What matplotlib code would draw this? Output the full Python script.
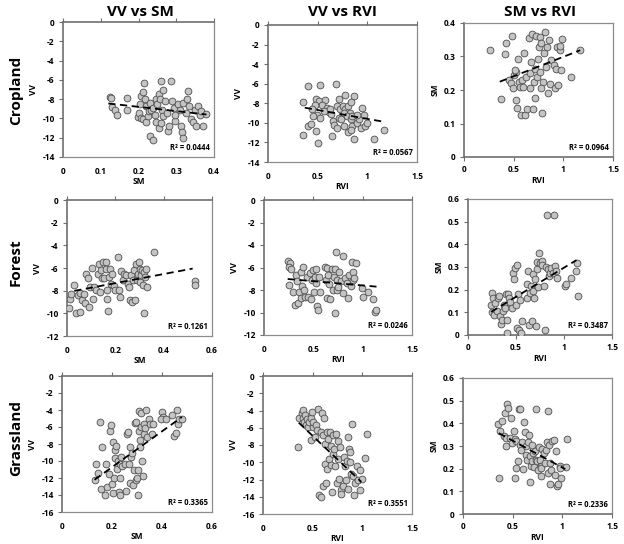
import matplotlib.pyplot as plt
import numpy as np

plt.rcParams['font.family'] = ['Open Sans', 'DejaVu Sans']
plt.rcParams['font.weight'] = 'bold'
plt.rcParams['axes.unicode_minus'] = False

# column / row names
col_titles = ["VV vs SM", "VV vs RVI", "SM vs RVI"]
row_titles = ["Cropland", "Forest", "Grassland"]

# Cropland
crop_sm_a = [0.124, 0.126, 0.13, 0.137, 0.143, 0.17, 0.17, 0.199, 0.2, 0.205,
             0.207, 0.212, 0.214, 0.218, 0.22, 0.206, 0.213, 0.219, 0.224, 0.228,
             0.231, 0.234, 0.238, 0.243, 0.247, 0.25, 0.254, 0.258, 0.26, 0.263,
             0.265, 0.231, 0.238, 0.247, 0.254, 0.26, 0.266, 0.271, 0.275, 0.278,
             0.282, 0.287, 0.29, 0.293, 0.296, 0.298, 0.305, 0.309, 0.313, 0.316,
             0.318, 0.319, 0.325, 0.329, 0.332, 0.335, 0.34, 0.344, 0.349, 0.353,
             0.357, 0.362, 0.366, 0.371, 0.38]
crop_vv_a = [-7.76, -7.9, -8.8, -9.1, -9.6, -7.9, -9.1, -9.9, -9.4, -8.55,
             -7.7, -7.3, -6.3, -8.0, -8.7, -10.0, -10.1, -10.4, -9.7, -9.2,
             -8.4, -9.1, -8.9, -9.6, -8.0, -8.55, -7.5, -8.0, -6.1, -9.1,
             -9.75, -11.8, -12.2, -10.4, -11.0, -10.5, -7.0, -8.2, -9.4, -11.3,
             -10.8, -6.1, -8.2, -8.9, -10.3, -9.6, -8.55, -9.1, -10.8, -11.4,
             -12.0, -8.4, -9.4, -8.0, -7.2, -8.7, -10.1, -10.4, -9.1, -10.8,
             -8.7, -9.6, -9.2, -10.8, -9.5]

crop_rvi_b = [0.4, 0.526, 0.68, 0.357, 0.78, 0.87, 0.486, 0.51, 0.577, 0.543,
              0.475, 0.44, 0.594, 0.611, 0.56, 0.49, 0.526, 0.45, 0.407, 0.435,
              0.486, 0.35, 0.5, 0.638, 0.655, 0.669, 0.69, 0.713, 0.737, 0.696,
              0.72, 0.757, 0.78, 0.805, 0.825, 0.764, 0.798, 0.832, 0.85, 0.764,
              0.805, 0.832, 0.866, 0.9, 0.917, 0.934, 0.95, 0.968, 0.975, 0.995,
              1.07, 1.165, 0.645, 0.832, 0.716, 0.628, 0.85, 0.9]
crop_vv_b = [-6.25, -6.1, -6.0, -7.9, -7.2, -7.3, -7.6, -7.8, -7.7, -8.2,
             -8.2, -8.6, -8.5, -8.9, -8.8, -9.15, -9.5, -9.25, -10.3, -10.1,
             -10.85, -11.2, -12.1, -9.05, -9.8, -10.2, -10.5, -9.5, -9.65, -8.3,
             -8.6, -8.3, -8.6, -8.3, -9.0, -9.0, -9.3, -9.65, -10.3, -10.35,
             -10.95, -10.7, -11.7, -10.0, -9.65, -10.5, -8.5, -9.15, -10.3, -10.0,
             -11.7, -10.7, -11.35, -7.9, -7.55, -8.6, -9.3, -9.15]

crop_rvi_c = [0.265, 0.376, 0.416, 0.42, 0.453, 0.477, 0.487, 0.493, 0.5, 0.52,
              0.527, 0.534, 0.544, 0.554, 0.56, 0.57, 0.587, 0.6, 0.611, 0.62,
              0.634, 0.654, 0.661, 0.668, 0.678, 0.688, 0.695, 0.701, 0.711, 0.715,
              0.728, 0.735, 0.745, 0.755, 0.762, 0.768, 0.779, 0.789, 0.795, 0.805,
              0.812, 0.822, 0.836, 0.846, 0.856, 0.869, 0.879, 0.903, 0.916, 0.93,
              0.936, 0.95, 0.963, 0.97, 0.98, 0.99, 1.08, 1.17, 0.51, 0.779,
              0.594]
crop_sm_c = [0.319, 0.173, 0.306, 0.34, 0.23, 0.22, 0.361, 0.205, 0.245, 0.255,
             0.17, 0.146, 0.294, 0.225, 0.21, 0.126, 0.23, 0.311, 0.126, 0.238,
             0.143, 0.356, 0.251, 0.205, 0.284, 0.368, 0.143, 0.225, 0.175, 0.264,
             0.36, 0.24, 0.294, 0.329, 0.358, 0.254, 0.339, 0.131, 0.225, 0.309,
             0.373, 0.269, 0.329, 0.19, 0.349, 0.218, 0.291, 0.274, 0.205, 0.262,
             0.329, 0.215, 0.319, 0.331, 0.26, 0.353, 0.238, 0.319, 0.26, 0.205,
             0.21]

# Forest
forest_sm_a = [0.007, 0.014, 0.018, 0.03, 0.039, 0.044, 0.052, 0.055, 0.062, 0.069,
               0.076, 0.08, 0.086, 0.09, 0.097, 0.103, 0.108, 0.113, 0.121, 0.127,
               0.132, 0.135, 0.14, 0.145, 0.149, 0.154, 0.16, 0.163, 0.166, 0.166,
               0.168, 0.172, 0.179, 0.183, 0.188, 0.193, 0.2, 0.21, 0.214, 0.218,
               0.223, 0.232, 0.237, 0.246, 0.251, 0.257, 0.262, 0.265, 0.269, 0.273,
               0.279, 0.281, 0.284, 0.29, 0.292, 0.297, 0.3, 0.303, 0.308, 0.312,
               0.314, 0.317, 0.32, 0.324, 0.328, 0.331, 0.359, 0.528, 0.53]
forest_vv_a = [-9.5, -8.76, -8.26, -7.46, -10.0, -8.4, -8.2, -9.9, -8.85, -8.26,
               -9.1, -6.5, -6.9, -9.4, -7.67, -5.96, -8.7, -7.67, -7.96, -6.5,
               -5.66, -8.1, -6.2, -6.9, -5.46, -6.9, -5.46, -6.05, -7.96, -8.7,
               -9.8, -6.8, -6.05, -7.4, -6.5, -7.6, -7.96, -5.0, -7.96, -8.6,
               -6.25, -7.08, -6.5, -6.64, -7.4, -7.7, -8.85, -6.64, -9.0, -7.08,
               -6.2, -8.85, -5.66, -7.08, -6.55, -5.46, -6.05, -7.2, -6.64, -6.2,
               -7.5, -9.94, -6.35, -6.78, -6.05, -7.67, -4.57, -7.17, -7.46]

forest_rvi_b = [0.244, 0.26, 0.254, 0.271, 0.25, 0.295, 0.312, 0.329, 0.339, 0.346,
                0.356, 0.37, 0.38, 0.39, 0.397, 0.407, 0.42, 0.437, 0.451, 0.464,
                0.475, 0.485, 0.492, 0.505, 0.515, 0.525, 0.532, 0.539, 0.549, 0.559,
                0.566, 0.617, 0.627, 0.634, 0.64, 0.651, 0.661, 0.668, 0.685, 0.695,
                0.708, 0.715, 0.719, 0.729, 0.735, 0.742, 0.753, 0.763, 0.776, 0.797,
                0.803, 0.82, 0.837, 0.847, 0.864, 0.878, 0.888, 0.898, 0.905, 0.912,
                0.932, 0.99, 1.0, 1.058, 1.108, 1.125, 1.135]
forest_vv_b = [-5.42, -5.63, -5.98, -6.16, -7.55, -8.15, -9.33, -6.67, -7.17, -9.13,
               -8.15, -6.37, -8.74, -7.64, -5.98, -8.0, -8.65, -6.81, -8.65, -6.46,
               -8.83, -7.11, -6.22, -8.15, -6.81, -6.16, -7.41, -9.42, -9.78, -6.87,
               -8.15, -5.98, -7.11, -8.74, -6.07, -6.67, -7.47, -8.83, -6.16, -8.0,
               -6.87, -6.16, -10.0, -4.59, -8.0, -7.11, -7.7, -6.37, -7.17, -4.98,
               -8.24, -6.96, -7.41, -8.74, -6.67, -7.64, -5.48, -7.11, -6.37, -6.96,
               -5.63, -7.85, -8.6, -8.15, -8.8, -9.93, -9.78]

forest_rvi_c = [0.248, 0.238, 0.248, 0.259, 0.266, 0.283, 0.307, 0.317, 0.328, 0.334,
                0.341, 0.352, 0.362, 0.376, 0.386, 0.397, 0.403, 0.41, 0.421, 0.431,
                0.438, 0.455, 0.472, 0.479, 0.49, 0.5, 0.507, 0.514, 0.524, 0.534,
                0.541, 0.548, 0.559, 0.61, 0.617, 0.628, 0.634, 0.645, 0.652, 0.662,
                0.672, 0.679, 0.686, 0.697, 0.707, 0.714, 0.721, 0.731, 0.741, 0.748,
                0.766, 0.776, 0.79, 0.8, 0.81, 0.824, 0.834, 0.845, 0.859, 0.869,
                0.886, 0.893, 0.903, 0.914, 0.928, 1.007, 1.017, 1.076, 1.128, 1.138,
                1.145]
forest_sm_c = [0.186, 0.134, 0.1, 0.164, 0.09, 0.142, 0.105, 0.164, 0.171, 0.083,
               0.05, 0.068, 0.105, 0.134, 0.12, 0.183, 0.068, 0.009, 0.179, 0.164,
               0.145, 0.12, 0.275, 0.245, 0.297, 0.134, 0.031, 0.307, 0.179, 0.024,
               0.154, 0.009, 0.061, 0.164, 0.223, 0.282, 0.046, 0.186, 0.216, 0.061,
               0.267, 0.194, 0.164, 0.245, 0.041, 0.29, 0.322, 0.213, 0.36, 0.319,
               0.327, 0.307, 0.216, 0.024, 0.301, 0.529, 0.29, 0.26, 0.272, 0.297,
               0.275, 0.53, 0.304, 0.282, 0.253, 0.216, 0.223, 0.253, 0.282, 0.316,
               0.171]

# Grassland
grass_sm_a = [0.131, 0.135, 0.144, 0.153, 0.157, 0.161, 0.171, 0.175, 0.18, 0.188,
              0.191, 0.197, 0.201, 0.204, 0.204, 0.208, 0.211, 0.211, 0.217, 0.22,
              0.224, 0.228, 0.231, 0.233, 0.233, 0.236, 0.241, 0.251, 0.257, 0.26,
              0.264, 0.268, 0.271, 0.273, 0.277, 0.281, 0.284, 0.287, 0.291, 0.295,
              0.297, 0.3, 0.304, 0.304, 0.308, 0.308, 0.311, 0.313, 0.317, 0.317,
              0.321, 0.324, 0.327, 0.327, 0.331, 0.335, 0.34, 0.348, 0.353, 0.361,
              0.364, 0.401, 0.404, 0.397, 0.417, 0.441, 0.447, 0.455, 0.46, 0.464,
              0.468, 0.481]
grass_vv_a = [-12.2, -10.4, -11.4, -5.47, -13.3, -8.3, -14.0, -10.3, -13.0, -11.5,
              -6.5, -5.8, -12.7, -7.8, -13.8, -12.0, -8.7, -9.7, -8.2, -10.9,
              -10.0, -13.6, -10.35, -12.0, -14.0, -9.5, -10.6, -10.3, -13.5, -6.84,
              -6.56, -10.3, -8.4, -12.6, -9.57, -9.1, -12.8, -11.05, -5.5, -12.2,
              -5.47, -12.0, -14.0, -11.05, -6.45, -4.14, -8.4, -7.54, -5.98, -4.41,
              -10.0, -11.8, -6.84, -5.6, -6.17, -3.95, -7.15, -5.1, -5.7, -6.84,
              -5.66, -4.2, -4.8, -5.1, -5.0, -4.6, -7.07, -6.7, -3.95, -5.6,
              -5.1, -5.0]

grass_rvi_b = [0.355, 0.365, 0.389, 0.399, 0.405, 0.416, 0.426, 0.432, 0.446, 0.456,
               0.466, 0.48, 0.486, 0.49, 0.5, 0.507, 0.524, 0.534, 0.547, 0.557,
               0.568, 0.581, 0.584, 0.591, 0.601, 0.608, 0.615, 0.625, 0.625, 0.635,
               0.642, 0.649, 0.659, 0.669, 0.676, 0.682, 0.686, 0.693, 0.703, 0.709,
               0.716, 0.726, 0.736, 0.743, 0.753, 0.76, 0.77, 0.777, 0.784, 0.787,
               0.804, 0.811, 0.828, 0.838, 0.845, 0.851, 0.855, 0.861, 0.872, 0.878,
               0.885, 0.895, 0.905, 0.919, 0.929, 0.946, 0.956, 0.973, 0.98, 0.997,
               1.03, 1.047]
grass_vv_b = [-8.24, -4.82, -4.24, -4.82, -3.92, -5.3, -4.5, -5.7, -5.0, -5.9,
              -5.3, -4.9, -7.37, -4.12, -5.9, -5.3, -7.06, -5.7, -6.27, -3.8,
              -13.84, -14.0, -6.47, -4.3, -12.75, -6.86, -4.9, -7.84, -10.2, -12.4,
              -6.47, -10.8, -7.25, -9.6, -6.55, -10.3, -8.1, -13.45, -6.86, -9.0,
              -8.5, -10.4, -6.67, -12.4, -7.57, -9.6, -11.96, -8.24, -13.25, -13.7,
              -12.75, -9.4, -10.4, -12.0, -9.8, -13.06, -7.06, -8.43, -10.0, -8.8,
              -11.4, -5.6, -11.65, -13.84, -12.35, -10.4, -12.0, -10.9, -13.2, -11.9,
              -9.5, -6.78]

grass_rvi_c = [0.362, 0.352, 0.369, 0.396, 0.409, 0.419, 0.43, 0.43, 0.443, 0.456,
               0.47, 0.487, 0.497, 0.51, 0.52, 0.52, 0.53, 0.537, 0.554, 0.564,
               0.57, 0.577, 0.587, 0.597, 0.604, 0.611, 0.621, 0.631, 0.638, 0.644,
               0.654, 0.664, 0.671, 0.678, 0.685, 0.691, 0.698, 0.705, 0.711, 0.721,
               0.732, 0.738, 0.745, 0.755, 0.765, 0.772, 0.782, 0.789, 0.789, 0.799,
               0.812, 0.822, 0.839, 0.846, 0.856, 0.856, 0.866, 0.872, 0.879, 0.889,
               0.899, 0.913, 0.923, 0.933, 0.946, 0.956, 0.973, 0.98, 0.99, 1.034,
               1.047]
grass_sm_c = [0.158, 0.398, 0.367, 0.409, 0.345, 0.445, 0.301, 0.335, 0.487, 0.468,
              0.335, 0.423, 0.313, 0.364, 0.158, 0.33, 0.202, 0.32, 0.232, 0.463,
              0.463, 0.305, 0.283, 0.316, 0.198, 0.404, 0.36, 0.261, 0.301, 0.239,
              0.316, 0.35, 0.254, 0.143, 0.212, 0.232, 0.305, 0.268, 0.209, 0.276,
              0.239, 0.463, 0.232, 0.195, 0.295, 0.239, 0.168, 0.212, 0.202, 0.286,
              0.268, 0.227, 0.283, 0.316, 0.453, 0.18, 0.305, 0.224, 0.133, 0.195,
              0.32, 0.327, 0.173, 0.28, 0.124, 0.133, 0.212, 0.202, 0.158, 0.206,
              0.33]

# linear trend lines (slope, intercept, x range), and R² labels
trend_slope = [-4.4, -1.81, 0.116, 4.02, -0.756, 0.257, 21.1, -10.9, -0.237]
trend_intercept = [-7.92, -7.78, 0.183, -8.14, -6.84, 0.04, -14.95, -1.49, 0.442]
trend_from = [0.12, 0.37, 0.36, 0.03, 0.24, 0.24, 0.13, 0.36, 0.36]
trend_to = [0.38, 1.17, 1.17, 0.52, 1.14, 1.13, 0.48, 0.99, 1.03]
r2_labels = ["0.0444", "0.0567", "0.0964", "0.1261", "0.0246", "0.3487",
             "0.3365", "0.3551", "0.2336"]

xs = [crop_sm_a, crop_rvi_b, crop_rvi_c,
      forest_sm_a, forest_rvi_b, forest_rvi_c,
      grass_sm_a, grass_rvi_b, grass_rvi_c]
ys = [crop_vv_a, crop_vv_b, crop_sm_c,
      forest_vv_a, forest_vv_b, forest_sm_c,
      grass_vv_a, grass_vv_b, grass_sm_c]
x_names = ["SM", "RVI", "RVI"] * 3
y_names = ["VV", "VV", "SM"] * 3

x_ticks = [np.arange(0, 0.41, 0.1), np.arange(0, 1.51, 0.5), np.arange(0, 1.51, 0.5),
           np.arange(0, 0.61, 0.2), np.arange(0, 1.51, 0.5), np.arange(0, 1.51, 0.5),
           np.arange(0, 0.61, 0.2), np.arange(0, 1.51, 0.5), np.arange(0, 1.51, 0.5)]
y_ticks = [np.arange(-14, 0.1, 2), np.arange(-14, 0.1, 2), np.arange(0, 0.41, 0.1),
           np.arange(-12, 0.1, 2), np.arange(-12, 0.1, 2), np.arange(0, 0.61, 0.1),
           np.arange(-16, 0.1, 2), np.arange(-16, 0.1, 2), np.arange(0, 0.61, 0.1)]

# axes boxes in pixels: left, top, right, bottom
boxes = [(63, 22, 214, 157), (268, 25, 417, 162), (464, 23, 613, 157),
         (67, 200, 212, 336), (264, 200, 412, 335), (468, 199, 612, 335),
         (62, 376, 212, 512), (263, 376, 412, 514), (463, 378, 612, 514)]

W, H = 624, 544
fig = plt.figure(figsize=(W / 100, H / 100), dpi=100)

spine_col = '#8c8c8c'
axis_col = '#6e6e6e'

for i in range(9):
    l, t, r, b = boxes[i]
    ax = fig.add_axes([l / W, 1 - b / H, (r - l) / W, (b - t) / H])
    ax.scatter(xs[i], ys[i], s=24, facecolor='#c4c4c4', edgecolor='#4d4d4d',
               linewidth=0.6, zorder=3)
    xl = np.array([trend_from[i], trend_to[i]])
    ax.plot(xl, trend_slope[i] * xl + trend_intercept[i], color='black',
            lw=1.3, ls=(0, (4, 2.5)), zorder=4)

    xt = x_ticks[i]
    yt = y_ticks[i]
    ax.set_xlim(xt[0], xt[-1])
    ax.set_ylim(yt[0], yt[-1])
    ax.set_xticks(xt)
    ax.set_yticks(yt)
    ax.set_xticklabels([f"{v:g}" for v in np.round(xt, 2)])
    ax.set_yticklabels([f"{v:g}" for v in np.round(yt, 2)])
    ax.tick_params(labelsize=6, length=3, width=0.8, color=axis_col, pad=3)

    for s in ax.spines.values():
        s.set_color(spine_col)
        s.set_linewidth(0.9)
    ax.spines['left'].set_color(axis_col)
    ax.spines['left'].set_linewidth(1.2)
    if y_names[i] == "VV":
        # x axis crosses at 0, which is the top of the plot
        ax.tick_params(axis='x', bottom=False, top=True, labelbottom=True,
                       labeltop=False, pad=4)
        ax.spines['top'].set_color(axis_col)
        ax.spines['top'].set_linewidth(1.2)
    else:
        ax.spines['bottom'].set_color(axis_col)
        ax.spines['bottom'].set_linewidth(1.2)

    ax.set_xlabel(x_names[i], fontsize=6, fontweight='bold', labelpad=1)
    ax.set_ylabel(y_names[i], fontsize=6, fontweight='bold', labelpad=3)
    ax.text(0.97, 0.04, "R² = " + r2_labels[i], transform=ax.transAxes,
            ha='right', va='bottom', fontsize=5.5, fontweight='bold', zorder=5)

# column titles and row labels
for x_px, name in zip([140, 342, 540], col_titles):
    fig.text(x_px / W, 1 - 12 / H, name, ha='center', va='center',
             fontsize=11, fontweight='bold')
for rname, y_px in zip(row_titles, [90, 262, 438]):
    fig.text(16 / W, 1 - y_px / H, rname, ha='center', va='center',
             rotation=90, fontsize=11, fontweight='bold')

fig.savefig("out.png", dpi=100, facecolor='white')
